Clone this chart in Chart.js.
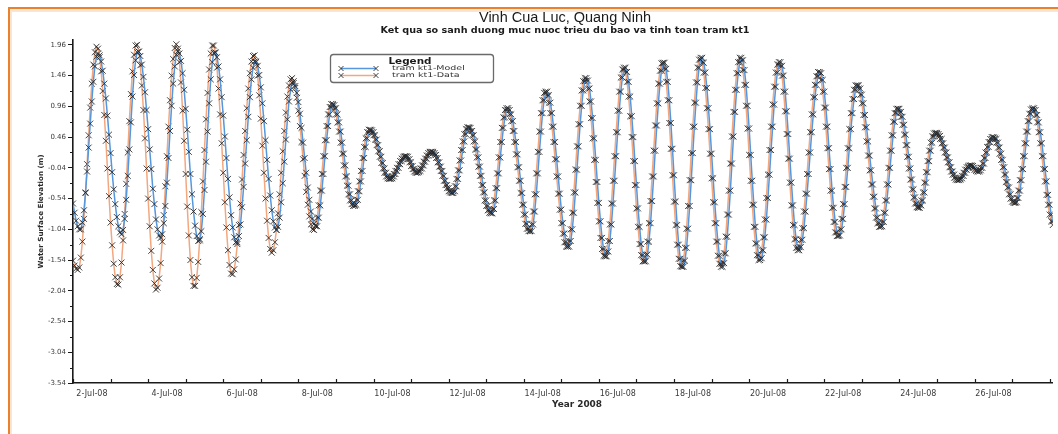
<!DOCTYPE html>
<html>
<head>
<meta charset="utf-8">
<title>Vinh Cua Luc, Quang Ninh</title>
<script src="https://cdn.jsdelivr.net/npm/chart.js@4"></script>
<style>
  html, body { margin: 0; padding: 0; background: #ffffff; }
  #wrap { width: 1058px; height: 434px; }
</style>
</head>
<body>
<div id="wrap"><canvas id="tide" width="1058" height="434"></canvas></div>
<script>
// ---- chart text ----
const stationTitle = 'Vinh Cua Luc, Quang Ninh';
const subTitle = 'Ket qua so sanh duong muc nuoc trieu du bao va tinh toan tram kt1';
const legendTitle = 'Legend';
const seriesNames = ['tram kt1-Model', 'tram kt1-Data'];
const yAxisTitle = 'Water Surface Elevation (m)';
const xAxisTitle = 'Year 2008';

// ---- hourly values from 2-Jul-08 00:00, one row per day ----
const stepHours = 1;

// water level (m), model run
const modelLevel = [
  -0.62,-0.77,-0.90,-0.99,-1.04,-1.04,-0.93,-0.73,-0.44,-0.10,0.29,0.68,1.04,1.36,1.61,1.77,1.82,1.79,1.69,1.54,1.33,1.09,0.81,0.50,
  0.20,-0.11,-0.39,-0.63,-0.84,-0.99,-1.09,-1.12,-1.05,-0.87,-0.56,-0.17,0.26,0.70,1.12,1.47,1.71,1.84,1.85,1.78,1.64,1.44,1.19,0.90,
  0.59,0.26,-0.06,-0.38,-0.63,-0.88,-1.04,-1.14,-1.18,-1.12,-0.94,-0.66,-0.28,0.12,0.56,0.97,1.33,1.61,1.80,1.86,1.82,1.70,1.50,1.23,
  0.92,0.58,0.22,-0.14,-0.47,-0.75,-0.98,-1.15,-1.23,-1.22,-1.07,-0.79,-0.40,0.06,0.55,1.01,1.40,1.68,1.83,1.84,1.76,1.61,1.40,1.11,
  0.81,0.47,0.12,-0.22,-0.52,-0.81,-1.01,-1.17,-1.25,-1.25,-1.15,-0.96,-0.68,-0.35,0.03,0.41,0.79,1.11,1.40,1.59,1.69,1.69,1.62,1.47,
  1.27,1.01,0.72,0.41,0.09,-0.22,-0.49,-0.73,-0.91,-1.01,-1.05,-1.00,-0.85,-0.60,-0.29,0.06,0.42,0.75,1.04,1.23,1.34,1.34,1.29,1.18,
  1.03,0.84,0.61,0.37,0.12,-0.12,-0.36,-0.56,-0.75,-0.87,-0.95,-0.98,-0.99,-0.85,-0.65,-0.41,-0.14,0.15,0.41,0.64,0.83,0.95,1.00,0.98,
  0.93,0.83,0.70,0.55,0.37,0.19,0.00,-0.18,-0.33,-0.47,-0.57,-0.63,-0.66,-0.64,-0.56,-0.42,-0.26,-0.09,0.12,0.30,0.44,0.54,0.58,0.57,
  0.54,0.49,0.42,0.33,0.23,0.14,0.04,-0.05,-0.12,-0.18,-0.21,-0.22,-0.21,-0.18,-0.14,-0.09,-0.04,0.02,0.07,0.11,0.14,0.15,0.14,0.10,
  0.05,-0.01,-0.06,-0.10,-0.12,-0.11,-0.09,-0.05,0.00,0.06,0.11,0.16,0.20,0.22,0.22,0.20,0.17,0.12,0.05,-0.02,-0.09,-0.17,-0.25,-0.32,
  -0.37,-0.42,-0.44,-0.45,-0.42,-0.34,-0.22,-0.08,0.08,0.25,0.39,0.51,0.59,0.62,0.61,0.56,0.49,0.39,0.26,0.13,-0.02,-0.17,-0.32,-0.44,
  -0.57,-0.66,-0.73,-0.77,-0.78,-0.71,-0.57,-0.37,-0.13,0.13,0.38,0.61,0.78,0.90,0.93,0.90,0.83,0.72,0.56,0.38,0.18,-0.03,-0.25,-0.45,
  -0.64,-0.80,-0.95,-1.03,-1.07,-1.07,-0.96,-0.75,-0.47,-0.13,0.22,0.55,0.85,1.06,1.18,1.20,1.14,1.02,0.85,0.63,0.38,0.10,-0.18,-0.46,
  -0.72,-0.94,-1.11,-1.25,-1.32,-1.32,-1.23,-1.04,-0.77,-0.44,-0.07,0.31,0.67,0.97,1.22,1.37,1.42,1.38,1.25,1.04,0.77,0.44,0.09,-0.27,
  -0.61,-0.91,-1.18,-1.36,-1.47,-1.48,-1.40,-1.23,-0.96,-0.62,-0.25,0.15,0.54,0.89,1.20,1.43,1.56,1.59,1.52,1.36,1.12,0.80,0.46,0.07,
  -0.32,-0.70,-1.00,-1.28,-1.46,-1.56,-1.56,-1.45,-1.24,-0.94,-0.58,-0.18,0.24,0.65,1.01,1.33,1.54,1.66,1.67,1.57,1.36,1.06,0.69,0.27,
  -0.16,-0.59,-0.97,-1.29,-1.52,-1.64,-1.65,-1.55,-1.34,-1.03,-0.66,-0.24,0.20,0.63,1.02,1.35,1.59,1.72,1.75,1.67,1.51,1.26,0.93,0.59,
  0.19,-0.21,-0.60,-0.94,-1.24,-1.47,-1.60,-1.65,-1.59,-1.43,-1.16,-0.80,-0.41,0.03,0.47,0.87,1.23,1.50,1.68,1.75,1.71,1.55,1.31,0.97,
  0.60,0.17,-0.25,-0.64,-1.00,-1.27,-1.46,-1.54,-1.51,-1.38,-1.17,-0.88,-0.53,-0.15,0.25,0.63,0.99,1.28,1.51,1.64,1.68,1.62,1.46,1.20,
  0.88,0.51,0.11,-0.28,-0.65,-0.97,-1.20,-1.34,-1.38,-1.33,-1.21,-1.02,-0.75,-0.46,-0.14,0.21,0.54,0.83,1.11,1.31,1.45,1.52,1.50,1.39,
  1.20,0.94,0.63,0.28,-0.06,-0.41,-0.69,-0.92,-1.09,-1.15,-1.14,-1.04,-0.87,-0.63,-0.35,-0.04,0.28,0.59,0.85,1.08,1.23,1.30,1.30,1.25,
  1.15,1.01,0.82,0.62,0.39,0.16,-0.08,-0.31,-0.51,-0.70,-0.85,-0.94,-1.00,-0.99,-0.92,-0.77,-0.57,-0.31,-0.04,0.24,0.49,0.71,0.85,0.92,
  0.92,0.87,0.79,0.66,0.50,0.33,0.14,-0.05,-0.23,-0.39,-0.52,-0.62,-0.68,-0.69,-0.65,-0.57,-0.44,-0.28,-0.11,0.07,0.24,0.37,0.47,0.52,
  0.53,0.51,0.48,0.43,0.36,0.29,0.21,0.13,0.05,-0.03,-0.10,-0.15,-0.20,-0.23,-0.24,-0.23,-0.21,-0.17,-0.12,-0.07,-0.03,-0.01,0.00,-0.01,
  -0.04,-0.07,-0.09,-0.10,-0.08,-0.04,0.03,0.12,0.21,0.30,0.38,0.43,0.46,0.45,0.43,0.37,0.29,0.19,0.09,-0.03,-0.15,-0.27,-0.36,-0.47,
  -0.54,-0.59,-0.61,-0.60,-0.53,-0.41,-0.24,-0.06,0.15,0.36,0.55,0.72,0.84,0.91,0.93,0.90,0.82,0.70,0.54,0.36,0.15,-0.06,-0.26,-0.48,
  -0.64,-0.80,-0.91
];

// water level (m), measured at the station
const dataLevel = [
  -1.55,-1.63,-1.68,-1.70,-1.66,-1.50,-1.24,-0.87,-0.45,0.02,0.49,0.94,1.33,1.64,1.84,1.93,1.90,1.76,1.53,1.21,0.82,0.40,-0.05,-0.50,
  -0.93,-1.30,-1.60,-1.82,-1.93,-1.94,-1.82,-1.58,-1.22,-0.79,-0.30,0.21,0.72,1.16,1.53,1.80,1.95,1.96,1.85,1.63,1.30,0.90,0.44,-0.05,
  -0.54,-0.99,-1.39,-1.70,-1.92,-2.02,-1.99,-1.84,-1.59,-1.24,-0.81,-0.34,0.15,0.63,1.06,1.46,1.73,1.91,1.97,1.90,1.68,1.35,0.89,0.40,
  -0.14,-0.67,-1.14,-1.54,-1.82,-1.96,-1.96,-1.83,-1.57,-1.20,-0.76,-0.26,0.25,0.75,1.18,1.56,1.82,1.95,1.95,1.83,1.59,1.25,0.83,0.36,
  -0.12,-0.60,-1.01,-1.38,-1.62,-1.76,-1.77,-1.69,-1.53,-1.28,-0.97,-0.62,-0.23,0.17,0.56,0.93,1.25,1.50,1.69,1.78,1.79,1.68,1.46,1.14,
  0.76,0.32,-0.12,-0.54,-0.90,-1.18,-1.36,-1.42,-1.38,-1.25,-1.05,-0.78,-0.47,-0.12,0.23,0.56,0.86,1.12,1.30,1.40,1.42,1.37,1.26,1.10,
  0.89,0.64,0.38,0.10,-0.17,-0.43,-0.64,-0.83,-0.96,-1.04,-1.05,-0.99,-0.85,-0.65,-0.41,-0.14,0.15,0.41,0.64,0.83,0.95,1.00,0.98,0.93,
  0.83,0.70,0.55,0.37,0.19,0.00,-0.18,-0.33,-0.47,-0.57,-0.63,-0.66,-0.64,-0.56,-0.42,-0.26,-0.09,0.12,0.30,0.44,0.54,0.58,0.57,0.54,
  0.49,0.42,0.33,0.23,0.14,0.04,-0.05,-0.12,-0.18,-0.21,-0.22,-0.21,-0.18,-0.14,-0.09,-0.04,0.02,0.07,0.11,0.14,0.15,0.14,0.10,0.05,
  -0.01,-0.06,-0.10,-0.12,-0.11,-0.09,-0.05,0.00,0.06,0.11,0.16,0.20,0.22,0.22,0.20,0.17,0.12,0.05,-0.02,-0.09,-0.17,-0.25,-0.32,-0.37,
  -0.42,-0.44,-0.45,-0.42,-0.34,-0.22,-0.08,0.08,0.25,0.39,0.51,0.59,0.62,0.61,0.56,0.49,0.39,0.26,0.13,-0.02,-0.17,-0.32,-0.44,-0.57,
  -0.66,-0.73,-0.77,-0.78,-0.71,-0.57,-0.37,-0.13,0.13,0.38,0.61,0.78,0.90,0.93,0.90,0.83,0.72,0.56,0.38,0.18,-0.03,-0.25,-0.45,-0.64,
  -0.80,-0.95,-1.03,-1.07,-1.07,-0.96,-0.75,-0.47,-0.13,0.22,0.55,0.85,1.06,1.18,1.20,1.14,1.02,0.85,0.63,0.38,0.10,-0.18,-0.46,-0.72,
  -0.94,-1.11,-1.25,-1.32,-1.32,-1.23,-1.04,-0.77,-0.44,-0.07,0.31,0.67,0.97,1.22,1.37,1.42,1.38,1.25,1.04,0.77,0.44,0.09,-0.27,-0.61,
  -0.91,-1.18,-1.36,-1.47,-1.48,-1.40,-1.23,-0.96,-0.62,-0.25,0.15,0.54,0.89,1.20,1.43,1.56,1.59,1.52,1.36,1.12,0.80,0.46,0.07,-0.32,
  -0.70,-1.00,-1.28,-1.46,-1.56,-1.56,-1.45,-1.24,-0.94,-0.58,-0.18,0.24,0.65,1.01,1.33,1.54,1.66,1.67,1.57,1.36,1.06,0.69,0.27,-0.16,
  -0.59,-0.97,-1.29,-1.52,-1.64,-1.65,-1.55,-1.34,-1.03,-0.66,-0.24,0.20,0.63,1.02,1.35,1.59,1.72,1.75,1.67,1.51,1.26,0.93,0.59,0.19,
  -0.21,-0.60,-0.94,-1.24,-1.47,-1.60,-1.65,-1.59,-1.43,-1.16,-0.80,-0.41,0.03,0.47,0.87,1.23,1.50,1.68,1.75,1.71,1.55,1.31,0.97,0.60,
  0.17,-0.25,-0.64,-1.00,-1.27,-1.46,-1.54,-1.51,-1.38,-1.17,-0.88,-0.53,-0.15,0.25,0.63,0.99,1.28,1.51,1.64,1.68,1.62,1.46,1.20,0.88,
  0.51,0.11,-0.28,-0.65,-0.97,-1.20,-1.34,-1.38,-1.33,-1.21,-1.02,-0.75,-0.46,-0.14,0.21,0.54,0.83,1.11,1.31,1.45,1.52,1.50,1.39,1.20,
  0.94,0.63,0.28,-0.06,-0.41,-0.69,-0.92,-1.09,-1.15,-1.14,-1.04,-0.87,-0.63,-0.35,-0.04,0.28,0.59,0.85,1.08,1.23,1.30,1.30,1.25,1.15,
  1.01,0.82,0.62,0.39,0.16,-0.08,-0.31,-0.51,-0.70,-0.85,-0.94,-1.00,-0.99,-0.92,-0.77,-0.57,-0.31,-0.04,0.24,0.49,0.71,0.85,0.92,0.92,
  0.87,0.79,0.66,0.50,0.33,0.14,-0.05,-0.23,-0.39,-0.52,-0.62,-0.68,-0.69,-0.65,-0.57,-0.44,-0.28,-0.11,0.07,0.24,0.37,0.47,0.52,0.53,
  0.51,0.48,0.43,0.36,0.29,0.21,0.13,0.05,-0.03,-0.10,-0.15,-0.20,-0.23,-0.24,-0.23,-0.21,-0.17,-0.12,-0.07,-0.03,-0.01,0.00,-0.01,-0.04,
  -0.07,-0.09,-0.10,-0.08,-0.04,0.03,0.12,0.21,0.30,0.38,0.43,0.46,0.45,0.43,0.37,0.29,0.19,0.09,-0.03,-0.15,-0.27,-0.36,-0.47,-0.54,
  -0.59,-0.61,-0.60,-0.53,-0.41,-0.24,-0.06,0.15,0.36,0.55,0.72,0.84,0.91,0.93,0.90,0.82,0.70,0.54,0.36,0.15,-0.06,-0.26,-0.48,-0.64,
  -0.80,-0.91,-0.97
];

// y axis labels (m)
const yTickValues = [1.96, 1.46, 0.96, 0.46, -0.04, -0.54, -1.04, -1.54, -2.04, -2.54, -3.04, -3.54];

// one tick per day (midnight), a label every second day
const xTickLabels = [
  '2-Jul-08','', '4-Jul-08','', '6-Jul-08','', '8-Jul-08','', '10-Jul-08','',
  '12-Jul-08','', '14-Jul-08','', '16-Jul-08','', '18-Jul-08','', '20-Jul-08','',
  '22-Jul-08','', '24-Jul-08','', '26-Jul-08','', ''
];

const SANS = "'DejaVu Sans', Verdana, sans-serif";
const ARIAL = "'Liberation Sans', Arial, sans-serif";
const BLUE = '#5596dc';
const ORANGE = '#f3a77f';
const MARK = 'rgba(35,35,35,0.85)';

function toPoints(arr) {
  return arr.map((v, i) => ({ x: i * stepHours, y: v }));
}

function drawCross(ctx, x, y, r) {
  ctx.beginPath();
  ctx.moveTo(x - r, y - r); ctx.lineTo(x + r, y + r);
  ctx.moveTo(x - r, y + r); ctx.lineTo(x + r, y - r);
  ctx.stroke();
}

// text squeezed or widened to a set width
function fitText(ctx, text, x, y, font, width, align, angle) {
  ctx.save();
  ctx.font = font;
  const sx = width / ctx.measureText(text).width;
  ctx.translate(x, y);
  if (angle) ctx.rotate(angle);
  ctx.scale(sx, 1);
  ctx.textAlign = align;
  ctx.textBaseline = 'middle';
  ctx.fillText(text, 0, 0);
  ctx.restore();
}

const decorations = {
  id: 'decorations',
  beforeDraw(chart) {
    const ctx = chart.ctx;
    ctx.save();
    ctx.fillStyle = '#ffffff';
    ctx.fillRect(0, 0, chart.width, chart.height);
    // orange page frame (top and left)
    ctx.fillStyle = '#fbe6d2';
    ctx.fillRect(10, 9, chart.width - 10, 3);
    ctx.fillRect(10, 9, 2, chart.height - 9);
    ctx.fillStyle = '#e9812d';
    ctx.fillRect(8, 7, chart.width - 8, 2);
    ctx.fillRect(8, 7, 2, chart.height - 7);
    ctx.restore();
  },
  afterDraw(chart) {
    const ctx = chart.ctx;
    const xs = chart.scales.x, ys = chart.scales.y;
    const area = chart.chartArea;
    ctx.save();

    // minor ticks on the elevation axis, half way between labelled ticks
    ctx.strokeStyle = '#1a1a1a';
    ctx.lineWidth = 1;
    for (let i = 0; i < yTickValues.length - 1; i++) {
      const py = Math.round(ys.getPixelForValue((yTickValues[i] + yTickValues[i + 1]) / 2)) + 0.5;
      ctx.beginPath();
      ctx.moveTo(area.left - 3, py); ctx.lineTo(area.left, py);
      ctx.stroke();
    }
    // day ticks pointing into the plot
    ctx.lineWidth = 1.2;
    xTickLabels.forEach((_, i) => {
      const px = Math.round(xs.getPixelForValue(i * 24)) + 0.5;
      ctx.beginPath();
      ctx.moveTo(px, area.bottom); ctx.lineTo(px, area.bottom - 4);
      ctx.stroke();
    });

    // titles
    ctx.fillStyle = '#1a1a1a';
    fitText(ctx, stationTitle, 565, 18, '14px ' + ARIAL, 172, 'center');
    fitText(ctx, subTitle, 565, 31, 'bold 9px ' + SANS, 369, 'center');

    // axis titles
    ctx.fillStyle = '#2a2a2a';
    fitText(ctx, xAxisTitle, 577, 405, 'bold 8px ' + SANS, 50, 'center');
    fitText(ctx, yAxisTitle, 41, (area.top + area.bottom) / 2, 'bold 7px ' + SANS, 114, 'center', -Math.PI / 2);

    // legend box
    const bx = 330.5, by = 54.5, bw = 163, bh = 28;
    ctx.beginPath();
    ctx.roundRect(bx, by, bw, bh, 3);
    ctx.fillStyle = '#ffffff';
    ctx.fill();
    ctx.strokeStyle = '#6a6a6a';
    ctx.lineWidth = 1.3;
    ctx.stroke();
    ctx.fillStyle = '#1a1a1a';
    fitText(ctx, legendTitle, 410, 61.5, 'bold 8px ' + SANS, 43, 'center');
    const rows = [[seriesNames[0], BLUE, 68.5], [seriesNames[1], ORANGE, 75.5]];
    rows.forEach(([name, col, ry]) => {
      ctx.strokeStyle = col;
      ctx.lineWidth = 1.3;
      ctx.beginPath();
      ctx.moveTo(341, ry); ctx.lineTo(376, ry);
      ctx.stroke();
      ctx.strokeStyle = MARK;
      ctx.lineWidth = 1;
      drawCross(ctx, 341, ry, 2.5);
      drawCross(ctx, 376, ry, 2.5);
      ctx.fillStyle = '#333333';
      fitText(ctx, name, 392, ry, '6.5px ' + SANS, name.length * 5.2, 'left');
    });
    ctx.restore();
  }
};

new Chart(document.getElementById('tide'), {
  type: 'line',
  data: {
    datasets: [
      {
        label: seriesNames[0],
        data: toPoints(modelLevel),
        borderColor: BLUE,
        borderWidth: 1.5,
        pointStyle: 'crossRot',
        pointRadius: 4.2,
        pointBorderColor: MARK,
        pointBorderWidth: 1,
        pointBackgroundColor: MARK,
        tension: 0
      },
      {
        label: seriesNames[1],
        data: toPoints(dataLevel),
        borderColor: ORANGE,
        borderWidth: 1.5,
        pointStyle: 'crossRot',
        pointRadius: 4.2,
        pointBorderColor: MARK,
        pointBorderWidth: 1,
        pointBackgroundColor: MARK,
        tension: 0
      }
    ]
  },
  options: {
    responsive: false,
    animation: false,
    devicePixelRatio: 1,
    layout: { padding: { top: 40, left: 0, right: 0, bottom: 0 } },
    plugins: {
      legend: { display: false },
      title: { display: false },
      tooltip: { enabled: false }
    },
    scales: {
      x: {
        type: 'linear',
        min: 0,
        max: 626,
        afterBuildTicks: s => { s.ticks = xTickLabels.map((_, i) => ({ value: i * 24 })); },
        afterFit: s => { s.height = 51; s.paddingLeft = 0; s.paddingRight = 0; },
        grid: { display: true, drawOnChartArea: false, drawTicks: false },
        border: { display: true, color: '#1a1a1a', width: 1.6 },
        ticks: {
          autoSkip: false,
          maxRotation: 0,
          minRotation: 0,
          padding: 6,
          labelOffset: 18.9,
          color: '#3a3a3a',
          font: { size: 8, family: SANS },
          callback: (v, i) => xTickLabels[i]
        }
      },
      y: {
        min: -3.54,
        max: 2.04,
        afterBuildTicks: s => { s.ticks = yTickValues.map(v => ({ value: v })); },
        afterFit: s => { s.width = 73; s.paddingTop = 0; s.paddingBottom = 0; },
        grid: { display: true, drawOnChartArea: false, tickLength: 5, color: '#1a1a1a', lineWidth: 1 },
        border: { display: true, color: '#1a1a1a', width: 1.6 },
        ticks: {
          padding: 2,
          color: '#3a3a3a',
          font: { size: 7, family: SANS },
          callback: v => v.toFixed(2)
        }
      }
    }
  },
  plugins: [decorations]
});
</script>
</body>
</html>
